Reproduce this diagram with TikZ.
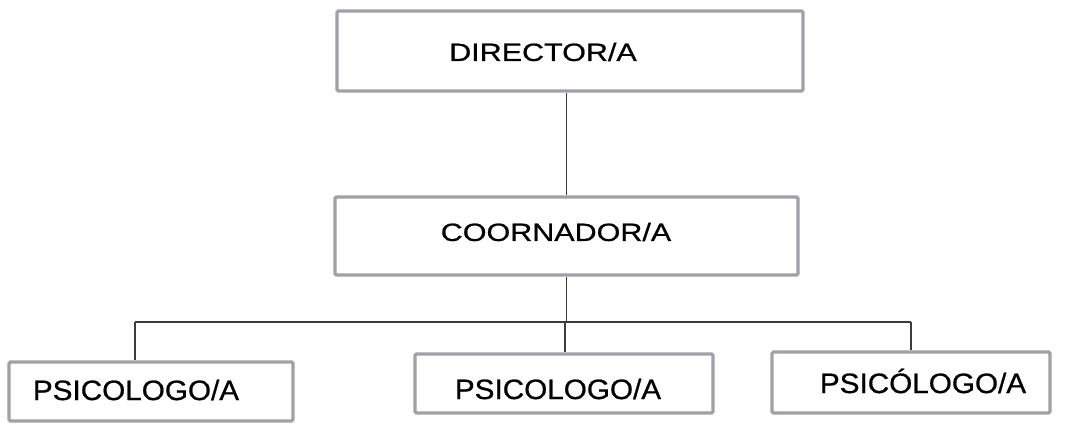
\documentclass[tikz,border=0pt]{standalone}
\usepackage{fontspec}
\newfontfamily\topfont[FakeStretch=1.22,FakeBold=0.7]{Liberation Sans}
\newfontfamily\botfont[FakeStretch=1.06,FakeBold=0.7]{Liberation Sans}
\begin{document}
\begin{tikzpicture}[x=1pt,y=-1pt]
\definecolor{boxgray}{RGB}{160,160,168}
\definecolor{linegray}{RGB}{60,60,60}
\tikzset{
  box/.style={draw=boxgray, line width=3.2pt, rounded corners=1.5pt, inner sep=0pt, fill=white},
  toplabel/.style={inner sep=0pt, font=\topfont\fontsize{25}{25}\selectfont, text=black},
  botlabel/.style={inner sep=0pt, font=\botfont\fontsize{28}{28}\selectfont, text=black},
  conn/.style={draw=linegray, line width=1.3pt}
}
\useasboundingbox (0,0) rectangle (1073,425);
% boxes
\node[box, minimum width=466pt, minimum height=80pt] (director) at (570,51) {};
\node[box, minimum width=463pt, minimum height=78pt] (coord) at (566.5,236) {};
\node[box, minimum width=284pt, minimum height=59pt] (p1) at (151,391.5) {};
\node[box, minimum width=298pt, minimum height=59pt] (p2) at (564,383.5) {};
\node[box, minimum width=278pt, minimum height=61pt] (p3) at (911,382.5) {};
% labels
\node[toplabel] (tdirector) at (543,52) {DIRECTOR/A};
\node[toplabel] (tcoord) at (556,232) {COORNADOR/A};
\node[botlabel] (tp1) at (136,390) {PSICOLOGO/A};
\node[botlabel] (tp2) at (558,389) {PSICOLOGO/A};
\node[botlabel] (tp3) at (923,381) {PSICÓLOGO/A};
% connectors
\coordinate (b1) at (135,322);
\coordinate (bm) at (565,322);
\coordinate (b3) at (911,322);
\draw[conn] (coord.north) -- (coord.north |- director.south);
\draw[conn] (coord.south) -- (coord.south |- bm);
\draw[conn] (b1) -- (b3);
\draw[conn] (b1) -- (b1 |- p1.north);
\draw[conn] (bm) -- (bm |- p2.north);
\draw[conn] (b3) -- (b3 |- p3.north);
\end{tikzpicture}
\end{document}
